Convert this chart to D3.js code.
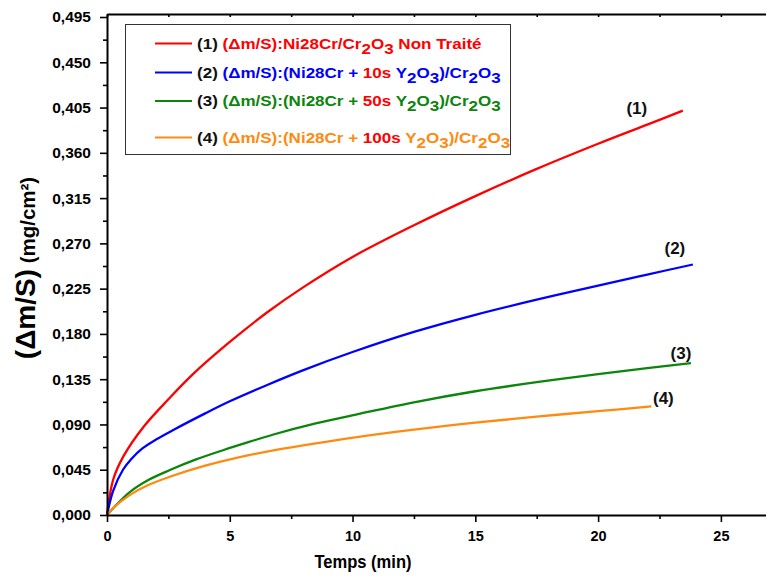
<!DOCTYPE html>
<html><head><meta charset="utf-8">
<script src="https://cdn.jsdelivr.net/npm/d3@7"></script>
<style>
html,body{margin:0;padding:0;background:#fff;overflow:hidden}
text{font-family:"Liberation Sans",Arial,sans-serif;font-weight:bold}
</style></head>
<body><svg id="c" width="766" height="576"></svg>
<script>
// ---- data ----
const xMajorTicks = [0, 5, 10, 15, 20, 25];
const xMinorTicks = [2.5, 7.5, 12.5, 17.5, 22.5];
const yMajorTicks = [0, 0.045, 0.09, 0.135, 0.18, 0.225, 0.27, 0.315, 0.36, 0.405, 0.45, 0.495];
const yMinorTicks = [0.0225, 0.0675, 0.1125, 0.1575, 0.2025, 0.2475, 0.2925, 0.3375, 0.3825, 0.4275, 0.4725];

const t1 = [0, 0.25, 0.66, 1.5, 2.5, 3.5, 5, 6.5, 8, 10, 12.5, 15, 17.5, 20, 22, 23.45];
const v1 = [0, 0.035, 0.058, 0.088, 0.115, 0.140, 0.172, 0.201, 0.2265, 0.2565, 0.288, 0.317, 0.344, 0.369, 0.388, 0.402];
const t2 = [0, 0.25, 0.65, 1, 1.43, 2, 2.7, 4, 5, 6.5, 8, 10, 12.5, 15, 17.5, 20, 22, 23.86];
const v2 = [0, 0.024, 0.045, 0.056, 0.066, 0.075, 0.0845, 0.101, 0.113, 0.129, 0.144, 0.162, 0.182, 0.199, 0.214, 0.228, 0.239, 0.249];
const t3 = [0, 0.3, 0.94, 1.7, 2.56, 3.6, 4.75, 5.82, 6.78, 8.5, 10.18, 12.5, 15, 17.5, 20, 22, 23.78];
const v3 = [0, 0.008, 0.023, 0.035, 0.0447, 0.055, 0.0646, 0.0729, 0.080, 0.091, 0.100, 0.112, 0.123, 0.132, 0.140, 0.146, 0.151];
const t4 = [0, 0.3, 0.94, 1.7, 2.56, 4, 5.82, 6.78, 8.5, 10.18, 12.5, 15, 17.5, 20, 22.17];
const v4 = [0, 0.008, 0.020, 0.030, 0.038, 0.049, 0.0597, 0.0643, 0.0713, 0.0775, 0.0848, 0.0918, 0.0978, 0.1032, 0.108];

const seriesColors = ["#ff0000", "#0000ff", "#0b850b", "#ff8a10"];
const curveLabels = ["(1)", "(2)", "(3)", "(4)"];
const legendSegments = [
  [["(1) ", "#111"], ["(Δm/S):Ni28Cr/Cr", 0], ["2", 0, "sub"], ["O", 0], ["3", 0, "sub"], [" Non Traité", 0]],
  [["(2) ", "#111"], ["(Δm/S):(Ni28Cr + ", 1], ["10s", 0], [" Y", 1], ["2", 1, "sub"], ["O", 1], ["3", 1, "sub"], [")/Cr", 1], ["2", 1, "sub"], ["O", 1], ["3", 1, "sub"]],
  [["(3) ", "#111"], ["(Δm/S):(Ni28Cr + ", 2], ["50s", 0], [" Y", 2], ["2", 2, "sub"], ["O", 2], ["3", 2, "sub"], [")/Cr", 2], ["2", 2, "sub"], ["O", 2], ["3", 2, "sub"]],
  [["(4) ", "#111"], ["(Δm/S):(Ni28Cr + ", 3], ["100s", 0], [" Y", 3], ["2", 3, "sub"], ["O", 3], ["3", 3, "sub"], [")/Cr", 3], ["2", 3, "sub"], ["O", 3], ["3", 3, "sub"]]
];
const xTitle = "Temps (min)";

// ---- chart ----
const svg = d3.select("#c");
const x = d3.scaleLinear().domain([0, 27]).range([107, 770]);
const y = d3.scaleLinear().domain([0, 0.498]).range([515, 14]);
const fmtY = v => d3.format(".3f")(v).replace(".", ",");

// curves
const series = [[t1, v1], [t2, v2], [t3, v3], [t4, v4]];
const line = d3.line().x(d => x(d[0])).y(d => y(d[1])).curve(d3.curveCatmullRom.alpha(0.5));
series.forEach(([ts, vs], i) => {
  svg.append("path").datum(ts.map((t, k) => [t, vs[k]]))
    .attr("d", line).attr("fill", "none").attr("stroke", seriesColors[i]).attr("stroke-width", 2.3);
});

// axes
const axStyle = g => { g.select(".domain").attr("stroke", "#000").attr("stroke-width", 2); g.selectAll(".tick line").attr("stroke", "#000").attr("stroke-width", 1.6); };
// bottom
svg.append("g").attr("transform", "translate(0,515)")
  .call(d3.axisBottom(x).tickValues(xMinorTicks).tickSize(4).tickFormat(""))
  .call(axStyle).call(g => g.select(".domain").remove());
svg.append("g").attr("transform", "translate(0,515)")
  .call(d3.axisBottom(x).tickValues(xMajorTicks).tickSize(7).tickSizeOuter(0).tickFormat(d3.format("d")))
  .call(axStyle)
  .call(g => g.selectAll(".tick text").attr("font-size", 14.5).attr("fill", "#000").attr("y", 16).attr("dy", "0.72em")
    .attr("font-family", '"Liberation Sans",Arial,sans-serif').attr("font-weight", "bold"));
// top
svg.append("g").attr("transform", "translate(0,14)")
  .call(d3.axisTop(x).tickValues(xMajorTicks.concat(xMinorTicks)).tickSize(-3).tickSizeOuter(0).tickFormat(""))
  .call(axStyle);
// left
svg.append("g").attr("transform", "translate(107,0)")
  .call(d3.axisLeft(y).tickValues(yMinorTicks).tickSize(4).tickFormat(""))
  .call(axStyle).call(g => g.select(".domain").remove());
svg.append("g").attr("transform", "translate(107,0)")
  .call(d3.axisLeft(y).tickValues(yMajorTicks).tickSize(7).tickSizeOuter(0).tickFormat(fmtY))
  .call(axStyle)
  .call(g => g.selectAll(".tick text").attr("font-size", 15.5).attr("fill", "#000").attr("x", -16)
    .attr("font-family", '"Liberation Sans",Arial,sans-serif').attr("font-weight", "bold"));

// axis titles
svg.append("text").attr("x", 363).attr("y", 568).attr("text-anchor", "middle")
  .attr("font-size", 19).attr("textLength", 97).attr("lengthAdjust", "spacingAndGlyphs").text(xTitle);
const yt = svg.append("text").attr("transform", "translate(35,268) rotate(-90)").attr("text-anchor", "middle");
yt.append("tspan").attr("font-size", 28).text("(Δm/S)");
yt.append("tspan").attr("font-size", 20.5).text(" (mg/cm²)");

// curve labels
const labelPos = [[t1, v1, -46, 3], [t2, v2, -18, -11], [t3, v3, -10, -4], [t4, v4, 12, -2]];
labelPos.forEach(([ts, vs, dx, dy], i) => {
  const tx = ts[ts.length - 1], vy = vs[vs.length - 1];
  svg.append("text").attr("x", x(tx) + dx).attr("y", y(vy) + dy).attr("text-anchor", "middle")
    .attr("font-size", 17).attr("fill", "#111").text(curveLabels[i]);
});

// legend
svg.append("rect").attr("x", 125.5).attr("y", 24.5).attr("width", 385).attr("height", 130)
  .attr("fill", "#fff").attr("stroke", "#333").attr("stroke-width", 1);
const rowY = [43.5, 72.5, 101, 137.5];
legendSegments.forEach((segs, i) => {
  svg.append("line").attr("x1", 155).attr("x2", 192).attr("y1", rowY[i]).attr("y2", rowY[i])
    .attr("stroke", seriesColors[i]).attr("stroke-width", 2);
  const t = svg.append("text").attr("transform", `translate(197,${rowY[i] + 5}) scale(1.175,1)`).attr("font-size", 14.5);
  let shifted = false;
  segs.forEach(([s, c, sub]) => {
    const sp = t.append("tspan").attr("fill", typeof c === "number" ? seriesColors[c] : c).text(s);
    if (sub && !shifted) { sp.attr("dy", 5); shifted = true; }
    else if (!sub && shifted) { sp.attr("dy", -5); shifted = false; }
  });
});
</script></body></html>
